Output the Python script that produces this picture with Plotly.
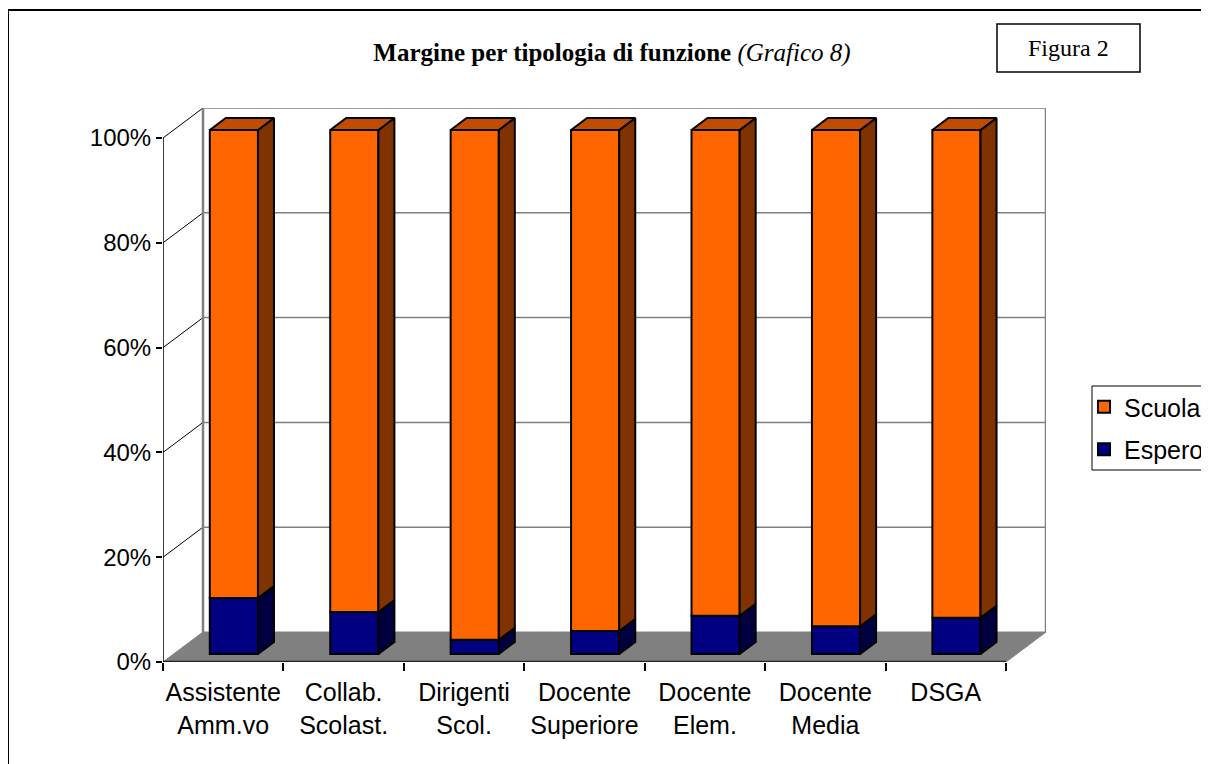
"""
Margine per tipologia di funzione (Grafico 8) - 100% stacked 3D-style bars
"""

import plotly.graph_objects as go

CATEGORIES = ["Assistente<br>Amm.vo", "Collab.<br>Scolast.", "Dirigenti<br>Scol.",
              "Docente<br>Superiore", "Docente<br>Elem.", "Docente<br>Media", "DSGA"]
ESPERO = [10.7, 8.0, 2.7, 4.4, 7.3, 5.3, 6.9]
SCUOLA = [89.3, 92.0, 97.3, 95.6, 92.7, 94.7, 93.1]
Y_TICKS = [0, 20, 40, 60, 80, 100]
Y_LABELS = ["0%", "20%", "40%", "60%", "80%", "100%"]

SERIES = [
    # name, values, front, side, top, legend rank
    ("Espero", ESPERO, "#000080", "#000040", "#000060", 2),
    ("Scuola", SCUOLA, "#FF6600", "#803300", "#BF4C00", 1),
]

# page pixel layout of the plot area (front plane + back wall)
W, H = 1209, 764
OFF = 8                      # body margin of the html page
PL, PR, PT, PB = 163, 1046, 108, 662
N = len(CATEGORIES)
PX_X = (PR - PL - 40) / N          # pixels per category on the front plane
PX_Y = (PB - PT - 30) / 100.0      # pixels per percent
DX, DY = 40 / PX_X, 30 / PX_Y      # depth of the floor in data units
BAR_W = 0.4
BX, BY = DX * 8 / 30, DY * 8 / 30    # bar front plane depth
SX, SY = DX * 12 / 30, DY * 12 / 30  # bar depth


def px_x(p):
    return (p - PL) / (PR - PL)


def px_y(p):
    return (PB - p) / (PB - PT)


fig = go.Figure()

# faces: sides and tops as filled polygons, fronts as bars
sides = {s[0]: ([], []) for s in SERIES}
tops = {s[0]: ([], []) for s in SERIES}
base = [0.0] * N
for name, vals, front, side, top, rank in SERIES:
    bases = list(base)
    for i, v in enumerate(vals):
        x0 = i + 0.5 - BAR_W / 2 + BX
        x1 = x0 + BAR_W
        b = bases[i] + BY
        t = bases[i] + v + BY
        xs, ys = sides[name]
        xs += [x1, x1 + SX, x1 + SX, x1, x1, None]
        ys += [b, b + SY, t + SY, t, b, None]
        if name == "Scuola":
            xs, ys = tops[name]
            xs += [x0, x1, x1 + SX, x0 + SX, x0, None]
            ys += [t, t, t + SY, t + SY, t, None]
        base[i] = bases[i] + v
    fig.add_bar(
        x=[i + 0.5 + BX for i in range(N)], y=vals,
        base=[bb + BY for bb in bases], width=BAR_W, name=name,
        legendgroup=name, legendrank=rank,
        marker=dict(color=front, line=dict(color="black", width=2)),
        hoverinfo="skip",
    )

for name, vals, front, side, top, rank in SERIES:
    fig.add_scatter(x=sides[name][0], y=sides[name][1], mode="lines", fill="toself",
                    fillcolor=side, line=dict(color="black", width=2),
                    showlegend=False, hoverinfo="skip")
    if tops[name][0]:
        fig.add_scatter(x=tops[name][0], y=tops[name][1], mode="lines", fill="toself",
                        fillcolor=top, line=dict(color="black", width=2),
                        showlegend=False, hoverinfo="skip")

shapes = []
# floor
shapes.append(dict(type="path", layer="below", xref="x", yref="y",
                   path=f"M0,0 L{N},0 L{N + DX},{DY} L{DX},{DY} Z",
                   fillcolor="#808080", line=dict(color="#808080", width=1)))
shapes.append(dict(type="line", layer="below", xref="x", yref="y",
                   x0=0, x1=N, y0=0, y1=0, line=dict(color="#222222", width=2.5)))
# back wall and side wall
for v in Y_TICKS[1:]:
    shapes.append(dict(type="line", layer="below", xref="x", yref="y",
                       x0=DX, x1=N + DX, y0=v + DY, y1=v + DY,
                       line=dict(color="#808080", width=1.5)))
    shapes.append(dict(type="line", layer="below", xref="x", yref="y",
                       x0=0, x1=DX, y0=v, y1=v + DY,
                       line=dict(color="black", width=1)))
for xv in (DX, N + DX):
    shapes.append(dict(type="line", layer="below", xref="x", yref="y",
                       x0=xv, x1=xv, y0=DY, y1=100 + DY,
                       line=dict(color="#808080", width=2.5)))
# front value axis
shapes.append(dict(type="line", layer="above", xref="x", yref="y",
                   x0=0, x1=0, y0=0, y1=100, line=dict(color="black", width=1.5)))
# "Figura 2" box, legend frame and outer border
shapes.append(dict(type="rect", xref="paper", yref="paper",
                   x0=px_x(997), x1=px_x(1140), y0=px_y(72), y1=px_y(24),
                   line=dict(color="black", width=1.5)))
shapes.append(dict(type="rect", xref="paper", yref="paper",
                   x0=px_x(1092), x1=px_x(1240), y0=px_y(470), y1=px_y(386),
                   line=dict(color="black", width=1)))
shapes.append(dict(type="rect", xref="paper", yref="paper",
                   x0=px_x(8), x1=px_x(1240), y0=px_y(790), y1=px_y(10),
                   line=dict(color="black", width=2)))

fig.update_layout(
    width=W, height=H,
    margin=dict(l=PL - OFF, r=W - PR + OFF, t=PT - OFF, b=H - PB + OFF, autoexpand=False),
    paper_bgcolor="white", plot_bgcolor="white",
    barmode="overlay",
    font=dict(family="Liberation Sans, Arial, sans-serif", size=24, color="black"),
    title=dict(
        text="<b>Margine per tipologia di funzione</b> <i>(Grafico 8)</i>",
        font=dict(family="Liberation Serif, Times New Roman, serif", size=25, color="black"),
        xref="container", yref="container", x=(612 - OFF) / W, y=1 - (52 - OFF) / H,
        xanchor="center", yanchor="middle",
    ),
    xaxis=dict(
        range=[0, N + DX], showgrid=False, zeroline=False, showline=False,
        tickmode="array", tickvals=[i + 0.5 for i in range(N)], ticktext=CATEGORIES,
        ticks="", tickfont=dict(size=25), ticklabelstandoff=13,
        minor=dict(tickmode="array", tickvals=list(range(N + 1)), ticks="outside",
                   ticklen=8, tickcolor="black", tickwidth=1.5, showgrid=False),
    ),
    yaxis=dict(
        range=[0, 100 + DY], showgrid=False, zeroline=False, showline=False,
        tickmode="array", tickvals=Y_TICKS, ticktext=Y_LABELS,
        ticks="outside", ticklen=6, tickcolor="black", tickwidth=1.5,
        tickfont=dict(size=24),
    ),
    legend=dict(
        x=px_x(1084), y=px_y(384), xanchor="left", yanchor="top",
        traceorder="grouped", tracegroupgap=7,
        bgcolor="rgba(0,0,0,0)", borderwidth=0, font=dict(size=25),
    ),
    shapes=shapes,
    annotations=[dict(
        text="Figura 2", xref="paper", yref="paper", x=px_x(1068), y=px_y(48),
        showarrow=False, xanchor="center", yanchor="middle",
        font=dict(family="Liberation Serif, Times New Roman, serif", size=24, color="black"),
    )],
)

fig.write_html("out.html")
